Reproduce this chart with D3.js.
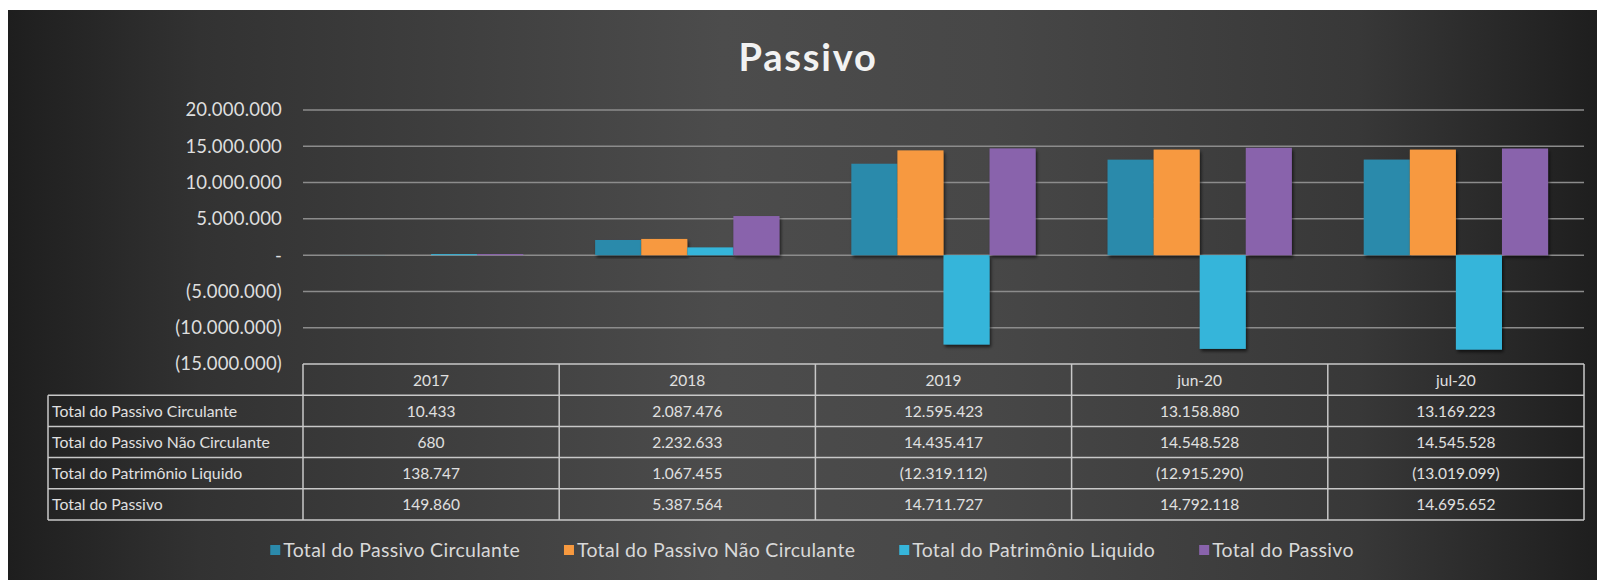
<!DOCTYPE html>
<html>
<head>
<meta charset="utf-8">
<script src="https://cdn.jsdelivr.net/npm/d3@7"></script>
<style>
  body { margin: 0; background: #fff; }
  svg text { font-family: Lato, "Open Sans", sans-serif; }
</style>
</head>
<body>
<div id="chart-area"></div>
<script>
const SVG_WIDTH = 1597;
const SVG_HEIGHT = 580;

const categories = ["2017", "2018", "2019", "jun-20", "jul-20"];
const seriesNames = ["Total do Passivo Circulante", "Total do Passivo Não Circulante", "Total do Patrimônio Liquido", "Total do Passivo"];
const circulante = [10433, 2087476, 12595423, 13158880, 13169223];
const naoCirculante = [680, 2232633, 14435417, 14548528, 14545528];
const patrimonio = [138747, 1067455, -12319112, -12915290, -13019099];
const totalPassivo = [149860, 5387564, 14711727, 14792118, 14695652];
const yTicks = [-15000000, -10000000, -5000000, 0, 5000000, 10000000, 15000000, 20000000];

const colors = ["#2b8aab", "#f7993f", "#36b5da", "#8963ac"];
const seriesValues = [circulante, naoCirculante, patrimonio, totalPassivo];

const plot = { left: 303, right: 1584, top: 110, bottom: 364 };
const rowH = 31.2;

const locale = d3.formatLocale({ decimal: ",", thousands: ".", grouping: [3], currency: ["", ""] });
const fmtInt = locale.format(",d");
const fmt = v => v === 0 ? "-" : v < 0 ? "(" + fmtInt(-v) + ")" : fmtInt(v);

const svg = d3.select("#chart-area").append("svg")
    .attr("width", SVG_WIDTH).attr("height", SVG_HEIGHT);

const defs = svg.append("defs");
const bg = defs.append("linearGradient").attr("id", "bg").attr("x1", "0").attr("x2", "1").attr("y1", "0").attr("y2", "0");
bg.append("stop").attr("offset", "0").attr("stop-color", "#1e1e1e");
bg.append("stop").attr("offset", "0.12").attr("stop-color", "#323232");
bg.append("stop").attr("offset", "0.45").attr("stop-color", "#4c4c4c");
bg.append("stop").attr("offset", "0.62").attr("stop-color", "#474747");
bg.append("stop").attr("offset", "0.85").attr("stop-color", "#383838");
bg.append("stop").attr("offset", "1").attr("stop-color", "#1e1e1e");

const shadow = defs.append("filter").attr("id", "shadow").attr("x", "-20%").attr("y", "-20%").attr("width", "140%").attr("height", "140%");
shadow.append("feDropShadow").attr("dx", 1.5).attr("dy", 2.5).attr("stdDeviation", 1.5)
    .attr("flood-color", "#000").attr("flood-opacity", 0.6);

svg.append("rect").attr("x", 8).attr("y", 10).attr("width", SVG_WIDTH - 8).attr("height", SVG_HEIGHT - 10)
    .attr("fill", "url(#bg)");

svg.append("text").attr("x", 808).attr("y", 71)
    .attr("text-anchor", "middle").attr("font-size", "38px").attr("font-weight", "bold")
    .attr("fill", "#f2f2f2").attr("letter-spacing", "1.8px")
    .text("Passivo");

const x = d3.scaleBand().domain(categories).range([plot.left, plot.right]).paddingInner(0).paddingOuter(0);
const x1 = d3.scaleBand().domain(d3.range(seriesNames.length)).range([0, x.bandwidth()]).paddingInner(0).paddingOuter(0.78);
const y = d3.scaleLinear().domain([-15000000, 20000000]).range([plot.bottom, plot.top]);

// gridlines
svg.append("g").selectAll("line").data(yTicks.filter(t => t > -15000000)).enter().append("line")
    .attr("x1", plot.left).attr("x2", plot.right)
    .attr("y1", d => y(d)).attr("y2", d => y(d))
    .attr("stroke", "#8c8c8c").attr("stroke-width", 1.5);

// y axis labels
const yAxis = d3.axisLeft(y).tickValues(yTicks).tickFormat(fmt).tickSize(0).tickPadding(0);
const yg = svg.append("g").attr("transform", `translate(${plot.left - 21},0)`).call(yAxis);
yg.select(".domain").remove();
yg.selectAll("text").attr("font-size", "18.5px").attr("fill", "#dedede")
    .attr("font-family", "Lato, sans-serif").attr("letter-spacing", "0.2px");

// bars
const groups = svg.append("g").selectAll("g").data(categories).enter().append("g")
    .attr("transform", d => `translate(${x(d)},0)`);
groups.selectAll("rect").data((c, i) => seriesValues.map((s, k) => ({ k: k, v: s[i] }))).enter().append("rect")
    .attr("x", d => x1(d.k))
    .attr("width", x1.bandwidth())
    .attr("y", d => y(Math.max(0, d.v)))
    .attr("height", d => Math.abs(y(d.v) - y(0)))
    .attr("fill", d => colors[d.k])
    .attr("filter", "url(#shadow)");

// data table
const table = svg.append("g");
const tTop = plot.bottom;
const lineColor = "#c8c8c8";
const labelLeft = 48;

// header row
table.selectAll(".hdr").data(categories).enter().append("text")
    .attr("x", d => x(d) + x.bandwidth() / 2).attr("y", tTop + rowH / 2 + 6)
    .attr("text-anchor", "middle").attr("font-size", "15.5px").attr("fill", "#e0e0e0")
    .text(d => d);

seriesNames.forEach((name, r) => {
    const yy = tTop + rowH * (r + 1);
    table.append("text").attr("x", labelLeft + 4).attr("y", yy + rowH / 2 + 6)
        .attr("font-size", "15.8px").attr("fill", "#e0e0e0").text(name);
    table.selectAll(".v" + r).data(categories).enter().append("text")
        .attr("x", d => x(d) + x.bandwidth() / 2).attr("y", yy + rowH / 2 + 6)
        .attr("text-anchor", "middle").attr("font-size", "15.5px").attr("fill", "#e0e0e0")
        .text((d, i) => fmt(seriesValues[r][i]));
});

// table lines
const hLines = d3.range(0, seriesNames.length + 2);
table.selectAll(".hl").data(hLines).enter().append("line")
    .attr("x1", d => d === 0 ? plot.left : labelLeft).attr("x2", plot.right)
    .attr("y1", d => tTop + d * rowH).attr("y2", d => tTop + d * rowH)
    .attr("stroke", lineColor).attr("stroke-width", 1.5);
table.selectAll(".vl").data(categories.concat(["end"])).enter().append("line")
    .attr("x1", d => d === "end" ? plot.right : x(d)).attr("x2", d => d === "end" ? plot.right : x(d))
    .attr("y1", tTop).attr("y2", tTop + rowH * (seriesNames.length + 1))
    .attr("stroke", lineColor).attr("stroke-width", 1.5);
table.append("line").attr("x1", labelLeft).attr("x2", labelLeft)
    .attr("y1", tTop + rowH).attr("y2", tTop + rowH * (seriesNames.length + 1))
    .attr("stroke", lineColor).attr("stroke-width", 1.5);

// legend
const legend = svg.append("g");
const items = legend.selectAll("g").data(seriesNames).enter().append("g");
items.append("rect").attr("width", 10).attr("height", 10).attr("y", -12)
    .attr("fill", (d, i) => colors[i]);
items.append("text").attr("x", 13).attr("font-size", "19.5px").attr("letter-spacing", "0.3px")
    .attr("fill", "#d8d8d8").text(d => d);
const gap = 44;
const widths = [];
items.each(function () { widths.push(this.getBBox().width); });
const totalW = d3.sum(widths) + gap * (widths.length - 1);
let cx = 812 - totalW / 2;
items.attr("transform", (d, i) => {
    const t = `translate(${cx},557)`;
    cx += widths[i] + gap;
    return t;
});
</script>
</body>
</html>
